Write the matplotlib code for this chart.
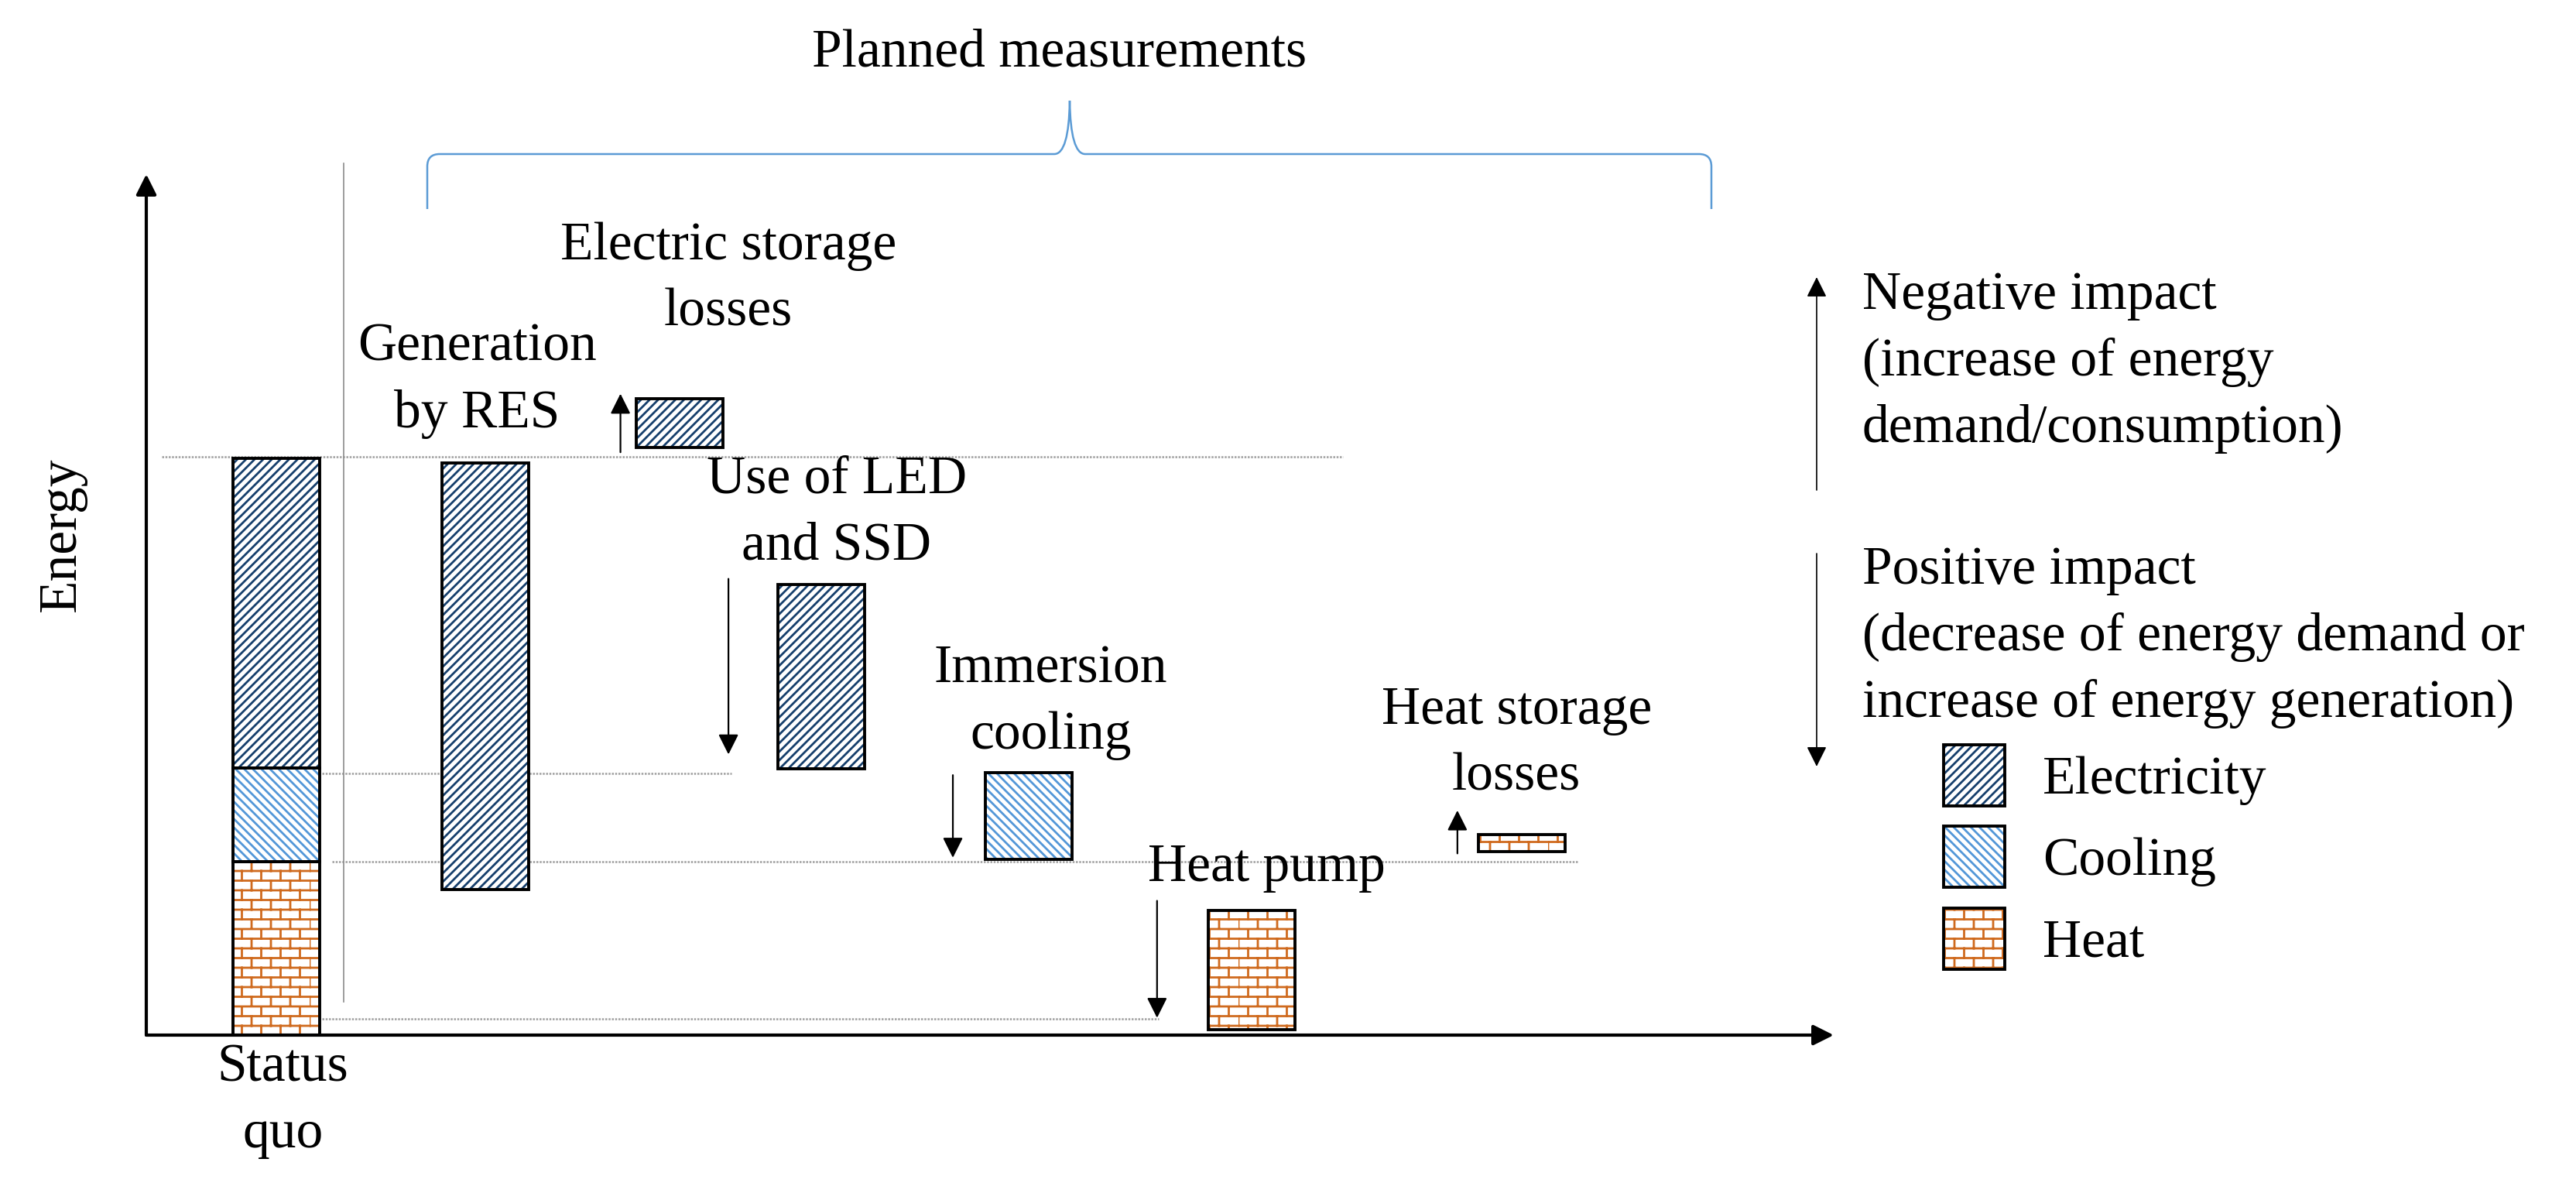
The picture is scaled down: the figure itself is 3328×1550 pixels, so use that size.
import warnings
import matplotlib
matplotlib.use("Agg")
import matplotlib.pyplot as plt
import matplotlib.patches as mpatches
from matplotlib import hatch as mhatch
from matplotlib.path import Path

warnings.filterwarnings("ignore", message="hatch must consist")

# energy per carrier, arbitrary units
carriers = ["Electricity", "Cooling", "Heat"]
status_quo = {"Heat": 20.1, "Cooling": 10.9, "Electricity": 36.0}  # stacked bottom -> top
measures = ["Generation\nby RES", "Electric storage\nlosses", "Use of LED\nand SSD",
            "Immersion\ncooling", "Heat pump", "Heat storage\nlosses"]
measure_carrier = ["Electricity", "Electricity", "Electricity", "Cooling", "Heat", "Heat"]
measure_bottom = [16.9, 68.3, 30.9, 20.4, 0.6, 21.3]
measure_top = [66.5, 73.9, 52.3, 30.5, 14.5, 23.3]

# impact arrows next to the measures (all but RES)
arrow_from = [67.7, 53.0, 30.2, 15.6, 21.1]
arrow_to = [74.5, 32.6, 20.6, 2.0, 26.1]

# reference levels (y, x start, x end)
guides = [(67.2, 0.09, 7.09), (30.4, 1.04, 3.47), (20.1, 1.10, 8.48), (1.9, 1.04, 6.0)]

# layout
W, H = 3328, 1550
bar_x = [0.77, 2.01, 3.16, 4.00, 5.23, 6.55, 8.15]
bar_w = 0.514
# label anchor = centre x, baseline of last line (data units)
label_xy = [(0.81, -13.0), (1.96, 70.6), (3.45, 82.4), (4.09, 55.3),
            (5.36, 33.3), (6.64, 17.9), (8.12, 28.5)]
arrow_x = [2.81, 3.45, 4.78, 5.99, 7.77]

hatch_color = {"Electricity": "#163F6C", "Cooling": "#5397D8", "Heat": "#CF6A1E"}
hatch_style = {"Electricity": "///", "Cooling": "\\\\\\", "Heat": "b"}
FONT = "Liberation Serif"
FS = 50
LS = 1.45


class BrickHatch(mhatch.HatchPatternBase):
    """Brick wall pattern, triggered by 'b' in the hatch string."""
    rows = 8
    cols = 4

    def __init__(self, hatch, density):
        self.num_vertices = 0
        if "b" in hatch:
            self.num_vertices = 2 * (self.rows + 1) + 2 * self.rows * self.cols

    def set_vertices_and_codes(self, vertices, codes):
        k = 0
        for i in range(self.rows + 1):
            y = i / self.rows
            vertices[k], vertices[k + 1] = (0, y), (1, y)
            codes[k], codes[k + 1] = Path.MOVETO, Path.LINETO
            k += 2
        for i in range(self.rows):
            shift = 0.5 * (i % 2)
            for j in range(self.cols):
                x = (j + shift) / self.cols
                vertices[k], vertices[k + 1] = (x, i / self.rows), (x, (i + 1) / self.rows)
                codes[k], codes[k + 1] = Path.MOVETO, Path.LINETO
                k += 2


mhatch._hatch_types.append(BrickHatch)
plt.rcParams["hatch.linewidth"] = 2.0
plt.rcParams["font.family"] = FONT

fig = plt.figure(figsize=(W / 100, H / 100), dpi=100)
ax = fig.add_axes([189 / W, 1 - 1337 / H, 2180 / W, 1112 / H])
ax.set_xlim(0, 10)
ax.set_ylim(0, 100)
ax.axis("off")


def draw_bar(x, bottom, height, carrier):
    ax.bar(x, height, bar_w, bottom=bottom, color="white", edgecolor=hatch_color[carrier],
           hatch=hatch_style[carrier], linewidth=0, zorder=2)
    ax.bar(x, height, bar_w, bottom=bottom, fill=False, edgecolor="black",
           linewidth=2.8, zorder=3)


# status quo stack
base = 0
for carrier in ["Heat", "Cooling", "Electricity"]:
    draw_bar(bar_x[0], base, status_quo[carrier], carrier)
    base += status_quo[carrier]

# planned measures
for i in range(len(measures)):
    draw_bar(bar_x[i + 1], measure_bottom[i], measure_top[i] - measure_bottom[i], measure_carrier[i])

# labels
labels = ["Status\nquo"] + measures
for (lx, ly), txt in zip(label_xy, labels):
    ax.text(lx, ly, txt, ha="center", va="baseline", fontsize=FS, linespacing=LS,
            clip_on=False)

# guide lines
for y, x0, x1 in guides:
    ax.plot([x0, x1], [y, y], color="#9E9E9E", lw=1.8, ls=(0, (1, 0.7)), zorder=1,
            clip_on=False)
ax.plot([1.17, 1.17], [101.3, 3.9], color="#8C8C8C", lw=1.2, zorder=1, clip_on=False)

# impact arrows
for x, y0, y1 in zip(arrow_x, arrow_from, arrow_to):
    ax.annotate("", xy=(x, y1), xytext=(x, y0),
                arrowprops=dict(arrowstyle="-|>,head_length=0.8,head_width=0.4",
                                mutation_scale=20, color="black", lw=1.6,
                                shrinkA=0, shrinkB=0))

# axes arrows
for tip in [(0, 1), (1, 0)]:
    ax.annotate("", xy=tip, xytext=(0, 0), xycoords="axes fraction",
                textcoords="axes fraction",
                arrowprops=dict(arrowstyle="-|>,head_length=0.8,head_width=0.4",
                                mutation_scale=20, color="black", lw=3.0,
                                shrinkA=0, shrinkB=0))

fig.text(80 / W, 1 - 690 / H, "Energy", rotation=90, ha="center", va="center", fontsize=FS)

# brace over the planned measures
bl, br, tip_x = 552, 2211, 1382
yb, yh, yt = 270, 199, 130
pts = [(bl, yb), (bl, yh + 16), (bl, yh), (bl + 16, yh), (tip_x - 20, yh),
       (tip_x - 1, yh), (tip_x, yt), (tip_x + 1, yh), (tip_x + 20, yh),
       (br - 16, yh), (br, yh), (br, yh + 16), (br, yb)]
codes = [Path.MOVETO, Path.LINETO, Path.CURVE3, Path.CURVE3, Path.LINETO,
         Path.CURVE3, Path.CURVE3, Path.CURVE3, Path.CURVE3,
         Path.LINETO, Path.CURVE3, Path.CURVE3, Path.LINETO]
brace = Path([(x / W, 1 - y / H) for x, y in pts], codes)
fig.add_artist(mpatches.PathPatch(brace, fill=False, edgecolor="#5B9BD5", lw=1.8,
                                  transform=fig.transFigure))
fig.text(1369 / W, 1 - 85 / H, "Planned measurements", ha="center", va="baseline", fontsize=FS)

# impact explanation on the right
for y0, y1 in [(633, 358), (715, 990)]:
    fig.add_artist(mpatches.FancyArrowPatch((2347 / W, 1 - y0 / H), (2347 / W, 1 - y1 / H),
                                            transform=fig.transFigure,
                                            arrowstyle="-|>,head_length=0.8,head_width=0.4",
                                            mutation_scale=20, color="black", lw=1.2,
                                            shrinkA=0, shrinkB=0))
fig.text(2406 / W, 1 - 571 / H,
         "Negative impact\n(increase of energy\ndemand/consumption)",
         ha="left", va="baseline", fontsize=FS, linespacing=LS)
fig.text(2406 / W, 1 - 926 / H,
         "Positive impact\n(decrease of energy demand or\nincrease of energy generation)",
         ha="left", va="baseline", fontsize=FS, linespacing=LS)

# legend
handles = []
for c in carriers:
    hatched = mpatches.Patch(facecolor="white", edgecolor=hatch_color[c], hatch=hatch_style[c],
                             linewidth=0)
    outline = mpatches.Patch(fill=False, edgecolor="black", linewidth=2.8)
    handles.append((hatched, outline))
fig.legend(handles, carriers, loc="upper left", bbox_to_anchor=(2511 / W, 1 - 962 / H),
           frameon=False, fontsize=FS, borderpad=0, borderaxespad=0,
           handlelength=1.14, handleheight=1.374, labelspacing=0.38, handletextpad=0.7)

fig.savefig("out.png", dpi=100)
